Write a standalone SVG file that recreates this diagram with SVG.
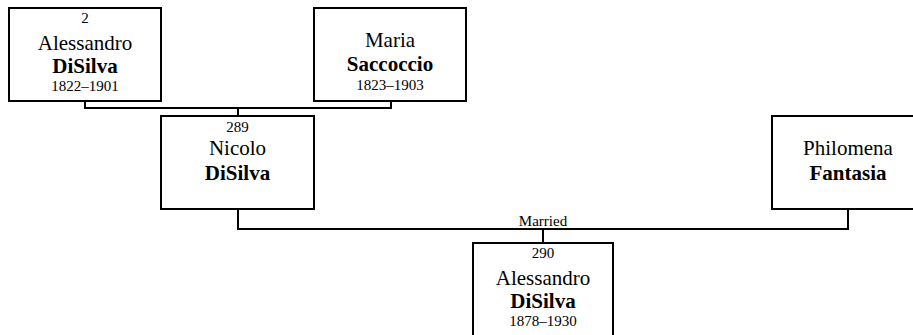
<svg xmlns="http://www.w3.org/2000/svg" width="913" height="335" viewBox="0 0 913 335">
<style>
.box{fill:#fff;stroke:#000;stroke-width:2}
.ln{fill:none;stroke:#000;stroke-width:2}
text{font-family:"Liberation Serif","Times New Roman",serif;fill:#000;text-anchor:middle}
.s{font-size:15px}
.n{font-size:21px}
.b{font-size:21px;font-weight:bold}
</style>
<rect width="913" height="335" fill="#fff"/>
<g id="connectors">
<path class="ln" d="M85,101 V108 H391 V101 M238,108 V116"/>
<path class="ln" d="M238,209 V229 H848 V209 M543,229 V243"/>
<text class="s" x="543" y="226">Married</text>
</g>
<g id="node-alessandro-1822">
<rect class="box" x="9" y="8" width="152" height="93"/>
<text class="s" x="85" y="23">2</text>
<text class="n" x="85" y="50">Alessandro</text>
<text class="b" x="85" y="73">DiSilva</text>
<text class="s" x="85" y="91">1822–1901</text>
</g>
<g id="node-maria">
<rect class="box" x="314" y="8" width="152" height="93"/>
<text class="n" x="390" y="47">Maria</text>
<text class="b" x="390" y="71">Saccoccio</text>
<text class="s" x="390" y="90">1823–1903</text>
</g>
<g id="node-nicolo">
<rect class="box" x="161" y="116" width="153" height="93"/>
<text class="s" x="237.5" y="132">289</text>
<text class="n" x="237.5" y="155">Nicolo</text>
<text class="b" x="237.5" y="180">DiSilva</text>
</g>
<g id="node-philomena">
<rect class="box" x="772" y="116" width="152" height="93"/>
<text class="n" x="848" y="155">Philomena</text>
<text class="b" x="848" y="180">Fantasia</text>
</g>
<g id="node-alessandro-1878">
<rect class="box" x="473" y="243" width="140" height="100"/>
<text class="s" x="543" y="258">290</text>
<text class="n" x="543" y="285">Alessandro</text>
<text class="b" x="543" y="308">DiSilva</text>
<text class="s" x="543" y="326">1878–1930</text>
</g>
</svg>
